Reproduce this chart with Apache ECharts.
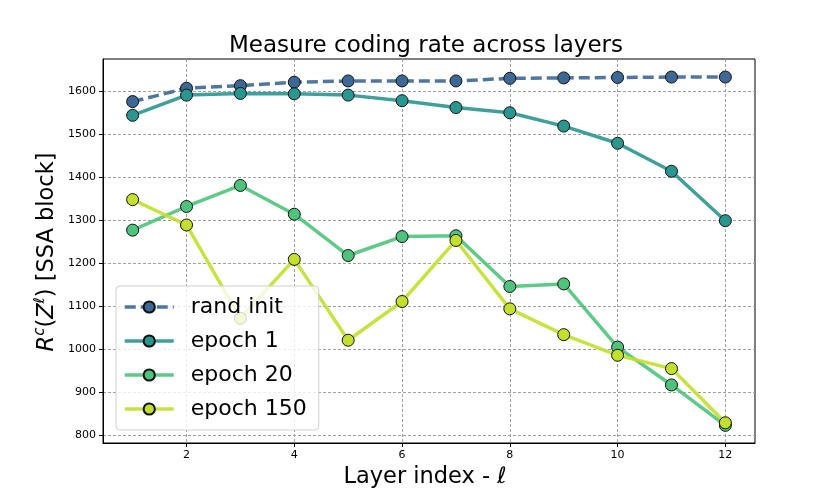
<!DOCTYPE html>
<html>
<head>
<meta charset="utf-8">
<script src="https://cdn.jsdelivr.net/npm/echarts@6/dist/echarts.min.js"></script>
<style>
  html, body { margin: 0; padding: 0; background: #fff; }
  #chart { width: 830px; height: 498px; }
</style>
</head>
<body>
<div id="chart"></div>
<script>
var layers = [1, 2, 3, 4, 5, 6, 7, 8, 9, 10, 11, 12];
var randInit = [1575, 1606, 1612, 1620, 1623, 1623, 1623, 1629, 1630, 1631, 1632, 1632];
var epoch1 = [1543, 1590, 1594, 1593, 1590, 1577, 1561, 1549, 1518, 1478, 1413, 1298];
var epoch20 = [1276, 1331, 1380, 1313, 1217, 1261, 1263, 1145, 1151, 1004, 916, 822];
var epoch150 = [1347, 1288, 1071, 1208, 1020, 1110, 1252, 1093, 1033, 985, 954, 828];
var xTicks = [2, 4, 6, 8, 10, 12];
var yTicks = [800, 900, 1000, 1100, 1200, 1300, 1400, 1500, 1600];

var FONT = 'DejaVu Sans';

function pairs(values) {
    return layers.map(function (x, i) { return [x, values[i]]; });
}

// 一条折线 (带黑边圆点)
function lineSeries(name, values, color, dashed) {
    return {
        name: name,
        type: 'line',
        data: pairs(values),
        symbol: 'circle',
        symbolSize: 12,
        color: color,
        itemStyle: { color: color, borderColor: '#111', borderWidth: 1 },
        lineStyle: { color: color, width: 3.5, opacity: 0.9, type: dashed ? [11, 5] : 'solid' },
        emphasis: { disabled: true },
        animation: false
    };
}

var ele = document.getElementById('chart');
var myChart = echarts.init(ele);

var gridLine = { show: true, lineStyle: { color: '#a0a0a0', width: 1, type: [3, 2] } };

var option = {
    backgroundColor: '#fff',
    grid: {
        left: 103, top: 59, right: 75, bottom: 55,
        show: true, borderColor: '#000', borderWidth: 1, backgroundColor: 'transparent'
    },
    legend: {
        orient: 'vertical',
        left: 116,
        top: 286,
        itemWidth: 49,
        itemHeight: 14,
        itemGap: 12,
        padding: [10, 12, 10, 7],
        backgroundColor: 'rgba(255,255,255,0.8)',
        borderColor: '#d0d0d0',
        borderWidth: 1,
        borderRadius: 4,
        lineStyle: { width: 3.5 },
        textStyle: { fontFamily: FONT, fontSize: 22, color: '#000', lineHeight: 22, padding: [0, 0, 0, 12] },
        data: ['rand init', 'epoch 1', 'epoch 20', 'epoch 150']
    },
    xAxis: {
        type: 'value',
        min: 0.45,
        max: 12.55,
        axisLine: { show: true, onZero: false, lineStyle: { color: '#000' } },
        axisTick: { show: true, length: 4, customValues: xTicks, lineStyle: { color: '#000' } },
        axisLabel: { customValues: xTicks, margin: 7, fontFamily: FONT, fontSize: 11, color: '#000' },
        splitLine: gridLine
    },
    yAxis: {
        type: 'value',
        min: 781,
        max: 1674,
        axisLine: { show: true, onZero: false, lineStyle: { color: '#000' } },
        axisTick: { show: true, length: 4, customValues: yTicks, lineStyle: { color: '#000' } },
        axisLabel: {
            customValues: yTicks, margin: 7, fontFamily: FONT, fontSize: 11, color: '#000',
            formatter: function (v) { return String(v); }
        },
        splitLine: gridLine
    },
    graphic: [
        {
            type: 'text', x: 426, y: 46,
            style: { text: 'Measure coding rate across layers', font: '23px "DejaVu Sans"', fill: '#000', align: 'center', verticalAlign: 'middle' }
        },
        {
            type: 'text', x: 425, y: 477,
            style: { text: 'Layer index - ℓ', font: '22.5px "DejaVu Sans"', fill: '#000', align: 'center', verticalAlign: 'middle' }
        },
        {
            type: 'text', x: 47, y: 252, rotation: Math.PI / 2,
            style: {
                text: '{i|R}{s|c}{n|(}{i|Z}{s|ℓ}{n|) [SSA block]}',
                align: 'center', verticalAlign: 'middle', fill: '#000',
                rich: {
                    i: { fontFamily: FONT, fontSize: 22.5, fontStyle: 'italic', lineHeight: 28 },
                    n: { fontFamily: FONT, fontSize: 22.5, lineHeight: 28 },
                    s: { fontFamily: FONT, fontSize: 15, fontStyle: 'italic', verticalAlign: 'top', lineHeight: 15 }
                }
            }
        }
    ],
    series: [
        lineSeries('rand init', randInit, '#3d6795', true),
        lineSeries('epoch 1', epoch1, '#2a9690', false),
        lineSeries('epoch 20', epoch20, '#4ec37b', false),
        lineSeries('epoch 150', epoch150, '#c4df2c', false)
    ]
};

myChart.setOption(option);
</script>
</body>
</html>
